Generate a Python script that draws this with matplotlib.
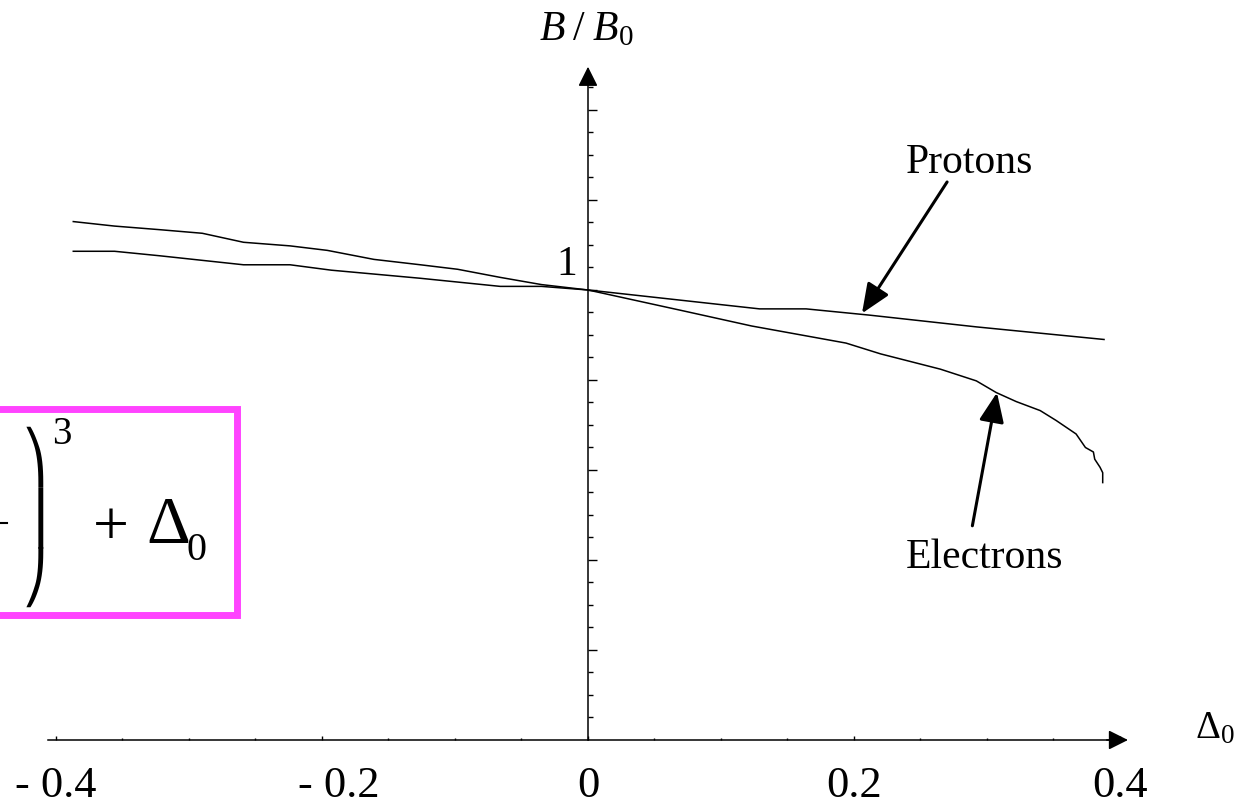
import numpy as np
import matplotlib
matplotlib.use("Agg")
import matplotlib.pyplot as plt
from matplotlib.ticker import FixedLocator
from matplotlib.patches import Rectangle
from matplotlib.lines import Line2D
import matplotlib.transforms as mtransforms

plt.rcParams['font.family'] = ['Liberation Serif', 'DejaVu Serif']
plt.rcParams['mathtext.fontset'] = 'custom'
plt.rcParams['mathtext.rm'] = 'Liberation Serif'
plt.rcParams['mathtext.it'] = 'Liberation Serif:italic'

# curve values (Delta_0, B/B_0)
electrons_x = [-0.387, -0.356, -0.322, -0.290, -0.259, -0.224, -0.196, -0.161,
               -0.126, -0.098, -0.066, -0.035, 0.0, 0.071, 0.123, 0.194, 0.220,
               0.265, 0.292, 0.307, 0.322, 0.340, 0.352, 0.367, 0.374, 0.380,
               0.381, 0.385, 0.387, 0.387]
electrons_y = [1.076, 1.071, 1.067, 1.063, 1.053, 1.049, 1.044, 1.034, 1.028,
               1.023, 1.014, 1.006, 1.000, 0.977, 0.960, 0.941, 0.929, 0.912,
               0.899, 0.886, 0.876, 0.866, 0.855, 0.840, 0.825, 0.820, 0.812,
               0.803, 0.797, 0.786]

protons_x = [-0.387, -0.356, -0.322, -0.259, -0.224, -0.193, -0.126, -0.066,
             -0.035, 0.0, 0.129, 0.164, 0.212, 0.292, 0.388]
protons_y = [1.043, 1.043, 1.038, 1.028, 1.028, 1.022, 1.013, 1.004, 1.004,
             1.000, 0.979, 0.979, 0.972, 0.959, 0.945]

x_ticks = [-0.4, -0.2, 0.0, 0.2, 0.4]
x_tick_labels = ['- 0.4', '- 0.2', '0', '0.2', '0.4']
x_minor = [-0.35, -0.3, -0.25, -0.15, -0.1, -0.05, 0.05, 0.1, 0.15, 0.25, 0.3, 0.35]
y_major = [0.6, 0.7, 0.8, 0.9, 1.0, 1.1, 1.2]
y_minor = [0.525, 0.55, 0.575, 0.625, 0.65, 0.675, 0.725, 0.75, 0.775, 0.825,
           0.85, 0.875, 0.925, 0.95, 0.975, 1.025, 1.05, 1.075, 1.125, 1.15,
           1.175, 1.225]

W, H = 1251, 804


def fig_xy(px, py):
    # pixel position in the picture -> figure fraction
    return px / W, 1 - py / H


fig = plt.figure(figsize=(W / 100, H / 100), dpi=100)
ax = fig.add_axes([0, 0, 1, 1])
ax.set_xlim(-0.4421, 0.4985)
ax.set_ylim(0.43, 1.3233)
ax.patch.set_visible(False)

for s in ['top', 'right']:
    ax.spines[s].set_visible(False)
ax.spines['left'].set_position(('data', 0))
ax.spines['bottom'].set_position(('data', 0.5))
ax.spines['left'].set_bounds(0.5, 1.235)
ax.spines['bottom'].set_bounds(-0.406, 0.394)
for s in ['left', 'bottom']:
    ax.spines[s].set_linewidth(1.1)

ax.xaxis.set_major_locator(FixedLocator(x_ticks))
ax.xaxis.set_minor_locator(FixedLocator(x_minor))
ax.set_xticklabels(x_tick_labels)
ax.yaxis.set_major_locator(FixedLocator(y_major))
ax.yaxis.set_minor_locator(FixedLocator(y_minor))
ax.tick_params(axis='x', which='major', direction='in', length=3, width=1,
               labelsize=32, pad=18)
ax.tick_params(axis='x', which='minor', direction='in', length=1.5, width=1)
ax.tick_params(axis='y', which='major', direction='in', length=6.5, width=1,
               labelleft=False)
ax.tick_params(axis='y', which='minor', direction='in', length=3.6, width=1)

# "- 0.2" sits a little to the right of its tick in the original
lbl = ax.get_xticklabels()[1]
lbl.set_transform(lbl.get_transform() +
                  mtransforms.ScaledTranslation(12 / 72, 0, fig.dpi_scale_trans))

# axis arrow heads
head = dict(arrowstyle='-|>,head_length=0.6,head_width=0.3', mutation_scale=20,
            color='black', lw=1.1, shrinkA=0, shrinkB=0)
ax.annotate('', xy=(0.406, 0.5), xytext=(0.39, 0.5), arrowprops=head)
ax.annotate('', xy=(0, 1.248), xytext=(0, 1.23), arrowprops=head)

ax.plot(electrons_x, electrons_y, color='black', lw=1.1)
ax.plot(protons_x, protons_y, color='black', lw=1.1)

pointer = dict(arrowstyle='-|>,head_length=0.9,head_width=0.38', mutation_scale=20,
               color='black', lw=2.2, shrinkA=0, shrinkB=0)
ax.annotate('', xy=(0.206, 0.974), xytext=(0.270, 1.120), arrowprops=pointer)
ax.annotate('', xy=(0.3075, 0.886), xytext=(0.289, 0.738), arrowprops=pointer)

ax.text(0.287, 1.131, 'Protons', fontsize=30, ha='center', va='baseline')
ax.text(0.2985, 0.692, 'Electrons', fontsize=30, ha='center', va='baseline')
ax.text(-0.008, 1.018, '1', fontsize=30, ha='right', va='baseline')
ax.text(-0.0015, 1.279, r'$B\;/\;B_0$', fontsize=30, ha='center', va='baseline')
ax.text(0.4564, 0.5033, r'$\Delta_0$', fontsize=28, ha='left', va='baseline')

# boxed formula, cut off at the left edge
box = Rectangle((-0.46, 0.6389), 0.1961, 0.2289, fill=False,
                edgecolor='#FF44FF', lw=5)
ax.add_patch(box)

# tall closing bracket stacked from its three pieces in one text
x, y = fig_xy(22, 517)
fig.text(x, y, '\u239e\n\u239f\n\u23a0', fontsize=37, linespacing=0.97,
         family=['DejaVu Sans', 'STIXGeneral'], ha='left', va='center')

x, y = fig_xy(62, 435)
fig.text(x, y, '3', fontsize=28, ha='center', va='center')
x, y = fig_xy(111, 530)
fig.text(x, y, '+', fontsize=46, ha='center', va='center')
x, y = fig_xy(146, 543)
fig.text(x, y, '\u0394', fontsize=49, ha='left', va='baseline')
x, y = fig_xy(187, 560)
fig.text(x, y, '0', fontsize=29, ha='left', va='baseline')
x0, y0 = fig_xy(0, 524)
x1, _ = fig_xy(7, 524)
fig.add_artist(Line2D([x0, x1], [y0, y0], color='black', lw=1.5))

fig.savefig('out.png', dpi=100)
